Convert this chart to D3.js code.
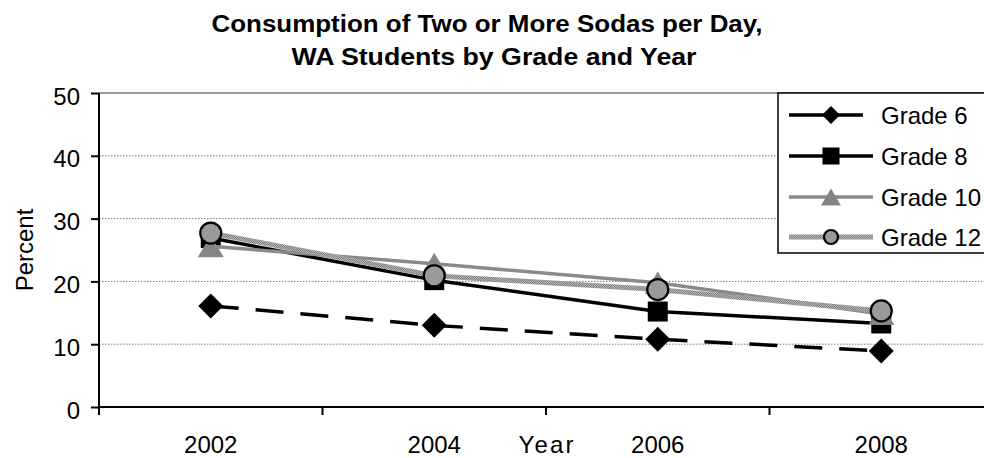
<!DOCTYPE html>
<html>
<head>
<meta charset="utf-8">
<script src="https://cdn.jsdelivr.net/npm/d3@7"></script>
<style>
  html, body { margin: 0; padding: 0; background: #fff; overflow: hidden; }
  svg { display: block; font-family: "Liberation Sans", Arial, sans-serif; }
</style>
</head>
<body>
<svg id="chart" width="984" height="458"></svg>
<script>
// Share of WA students drinking two or more sodas per day (percent)
const years = ["2002", "2004", "2006", "2008"];
const seriesNames = ["Grade 6", "Grade 8", "Grade 10", "Grade 12"];
const grade6  = [16.1, 13.0, 10.8, 8.9];
const grade8  = [26.9, 20.2, 15.2, 13.3];
const grade10 = [25.6, 22.8, 19.8, 14.8];
const grade12 = [27.7, 20.9, 18.7, 15.3];
const yTicks = [0, 10, 20, 30, 40, 50];
const titleLines = ["Consumption of Two or More Sodas per Day,", "WA Students by Grade and Year"];

const svg = d3.select("#chart");
const plot = { left: 99, right: 993, top: 93, bottom: 407 };
const FS = 24;

// checkered grey used for the Grade 12 line
const defs = svg.append("defs");
const pat = defs.append("pattern")
  .attr("id", "checker").attr("patternUnits", "userSpaceOnUse")
  .attr("width", 2).attr("height", 2);
pat.append("rect").attr("width", 2).attr("height", 2).attr("fill", "#b4b4b4");
pat.append("rect").attr("width", 1).attr("height", 1).attr("fill", "#828282");
pat.append("rect").attr("x", 1).attr("y", 1).attr("width", 1).attr("height", 1).attr("fill", "#828282");

const x = d3.scaleBand().domain(years).range([plot.left, plot.right]).padding(0);
const y = d3.scaleLinear().domain([0, 50]).range([plot.bottom, plot.top]);
const cx = d => x(d) + x.bandwidth() / 2;

// Title (two centred lines, slightly widened)
const titleWidths = [551, 405];
const titleCenters = [487, 494];
svg.append("g").selectAll("text").data(titleLines).join("text")
  .attr("x", (d, i) => titleCenters[i]).attr("y", (d, i) => 32 + i * 33)
  .attr("text-anchor", "middle")
  .attr("font-size", 23).attr("font-weight", "bold").attr("fill", "#000")
  .attr("textLength", (d, i) => titleWidths[i]).attr("lengthAdjust", "spacingAndGlyphs")
  .text(d => d);

// Horizontal gridlines
svg.append("g").selectAll("line").data(yTicks.filter(v => v > 0 && v < 50)).join("line")
  .attr("x1", plot.left).attr("x2", plot.right)
  .attr("y1", d => y(d)).attr("y2", d => y(d))
  .attr("stroke", "#7a7a7a").attr("stroke-width", 1).attr("stroke-dasharray", "1.5,1.5");
// Top border of the plot area
svg.append("line")
  .attr("x1", plot.left).attr("x2", plot.right)
  .attr("y1", y(50)).attr("y2", y(50))
  .attr("stroke", "#999").attr("stroke-width", 2);

// Y axis
const yAxis = svg.append("g").attr("transform", `translate(${plot.left},0)`)
  .call(d3.axisLeft(y).tickValues(yTicks).tickSize(8).tickPadding(11).tickFormat(d3.format("d")));
yAxis.select(".domain").attr("stroke", "#000").attr("stroke-width", 2)
  .attr("d", `M0,${plot.top}V${plot.bottom + 8}`);
yAxis.selectAll(".tick line").attr("stroke", "#000").attr("stroke-width", 2);
yAxis.selectAll(".tick text")
  .attr("font-size", FS).attr("font-family", "Liberation Sans, Arial, sans-serif")
  .attr("fill", "#000").attr("dy", null).attr("y", 11);

// X axis: labels centred in each band, tick marks at band edges
const xAxis = svg.append("g").attr("transform", `translate(0,${plot.bottom})`)
  .call(d3.axisBottom(x).tickSize(0).tickPadding(0));
xAxis.select(".domain").attr("stroke", "#000").attr("stroke-width", 2)
  .attr("d", `M${plot.left},0H${plot.right}`);
xAxis.selectAll(".tick text")
  .attr("font-size", FS).attr("font-family", "Liberation Sans, Arial, sans-serif")
  .attr("fill", "#000").attr("dy", null).attr("y", 46);
const edges = years.map(d => x(d)).concat([x.range()[1]]);
xAxis.append("g").selectAll("line").data(edges).join("line")
  .attr("x1", d => d).attr("x2", d => d).attr("y1", 0).attr("y2", 8)
  .attr("stroke", "#000").attr("stroke-width", 2);

// Axis titles
svg.append("text")
  .attr("x", (plot.left + plot.right) / 2).attr("y", plot.bottom + 46)
  .attr("text-anchor", "middle").attr("font-size", FS).attr("fill", "#000")
  .attr("textLength", 55).attr("lengthAdjust", "spacing")
  .text("Year");
svg.append("text")
  .attr("transform", `translate(33,250) rotate(-90)`)
  .attr("text-anchor", "middle").attr("font-size", FS).attr("fill", "#000")
  .text("Percent");

// Series styles
const series = [
  { name: seriesNames[0], values: grade6,  stroke: "#000", width: 3.5, dash: "28,17", legendDash: "40,2",
    marker: "diamond", size: 12.5, legendSize: 9, fill: "#000", mstroke: "none" },
  { name: seriesNames[1], values: grade8,  stroke: "#000", width: 3.5, dash: null,
    marker: "square", size: 10, legendSize: 8.5, fill: "#000", mstroke: "none" },
  { name: seriesNames[2], values: grade10, stroke: "#8a8a8a", width: 3.5, dash: null,
    marker: "triangle", size: 13, legendSize: 10, fill: "#858585", mstroke: "none" },
  { name: seriesNames[3], values: grade12, stroke: "url(#checker)", width: 5, dash: null,
    marker: "circle", size: 10.5, legendSize: 7, fill: "#9a9a9a", mstroke: "#000" }
];

function markerPath(type, s) {
  switch (type) {
    case "diamond": return `M0,${-s}L${s},0L0,${s}L${-s},0Z`;
    case "square": return `M${-s},${-s}H${s}V${s}H${-s}Z`;
    case "triangle": return `M0,${-s * 0.85}L${s},${s * 0.85}L${-s},${s * 0.85}Z`;
    default: return null;
  }
}
function drawMarker(g, type, s, fill, stroke) {
  if (type === "circle") {
    g.append("circle").attr("r", s).attr("fill", fill)
      .attr("stroke", stroke).attr("stroke-width", 2.2);
  } else {
    g.append("path").attr("d", markerPath(type, s)).attr("fill", fill)
      .attr("stroke", stroke === "none" ? null : stroke);
  }
}

const line = d3.line().x((d, i) => cx(years[i])).y(d => y(d));
const plotG = svg.append("g");
series.forEach(s => {
  const g = plotG.append("g");
  g.append("path").datum(s.values)
    .attr("d", line).attr("fill", "none")
    .attr("stroke", s.stroke).attr("stroke-width", s.width)
    .attr("stroke-dasharray", s.dash).attr("stroke-linejoin", "round");
  s.values.forEach((v, i) => {
    const mg = g.append("g").attr("transform", `translate(${cx(years[i])},${y(v)})`);
    drawMarker(mg, s.marker, s.size, s.fill, s.mstroke);
  });
});

// Legend
const legend = svg.append("g");
legend.append("rect")
  .attr("x", 778).attr("y", 93).attr("width", 230).attr("height", 160)
  .attr("fill", "#fff").attr("stroke", "#000").attr("stroke-width", 1.5);
const rowY = [115, 156, 197, 237];
series.forEach((s, i) => {
  const g = legend.append("g").attr("transform", `translate(0,${rowY[i]})`);
  g.append("line")
    .attr("x1", 789).attr("x2", i === 0 ? 863 : 873).attr("y1", 0).attr("y2", 0)
    .attr("stroke", s.stroke).attr("stroke-width", s.width)
    .attr("stroke-dasharray", s.legendDash || null);
  const mg = g.append("g").attr("transform", `translate(831,0)`);
  drawMarker(mg, s.marker, s.legendSize, s.fill, s.mstroke);
  g.append("text").attr("x", 881).attr("y", 8.5)
    .attr("font-size", FS).attr("fill", "#000").text(s.name);
});
</script>
</body>
</html>
